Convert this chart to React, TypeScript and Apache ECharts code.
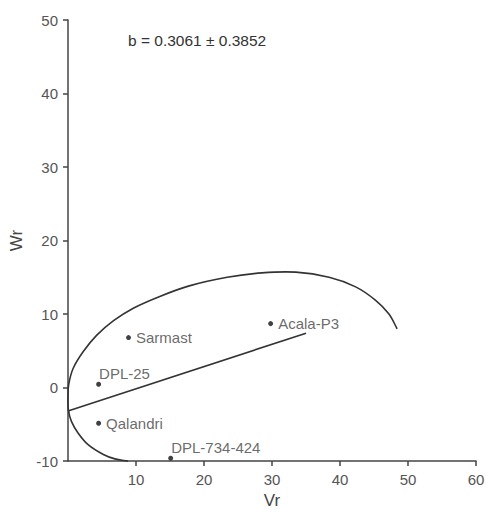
import React, { useEffect, useRef } from "react";
import * as echarts from "echarts";

const names = ["Sarmast", "DPL-25", "Qalandri", "DPL-734-424", "Acala-P3"];
const vrValues = [8.9, 4.5, 4.5, 15.1, 29.8];
const wrValues = [6.8, 0.45, -4.85, -9.6, 8.7];
const labelAbove = [false, true, false, true, false];

const regressionVr = [0, 35];
const regressionWr = [-3.2, 7.4];

const curveVr = [8.8, 6.9, 5.2, 3.0, 1.5, 0.5, 0.05, 0.0, 0.1, 0.75, 2.25, 4.2, 6.7, 9.6, 13.5, 17.7, 23.4, 28.5, 33.5, 38.4, 42.3, 45.2, 47.2, 48.4];
const curveWr = [-10, -9.7, -9.1, -7.8, -6.2, -4.6, -3.0, -1.3, 0.4, 2.6, 4.9, 7.1, 9.1, 10.8, 12.4, 13.8, 15.0, 15.6, 15.7, 15.0, 13.7, 11.9, 10.0, 8.0];

const xTicks = [0, 60, 10];
const yTicks = [-10, 50, 10];
const annotation = "b = 0.3061 ± 0.3852";

function smoothPath(pts: number[][]): string {
  const n = pts.length;
  const d = (a: number[], b: number[]) => Math.hypot(b[0] - a[0], b[1] - a[1]) || 1e-6;
  const tangents = pts.map((p, i) => {
    if (i === 0) {
      const l = d(pts[0], pts[1]);
      return [(pts[1][0] - p[0]) / l, (pts[1][1] - p[1]) / l];
    }
    if (i === n - 1) {
      const l = d(pts[n - 2], pts[n - 1]);
      return [(p[0] - pts[n - 2][0]) / l, (p[1] - pts[n - 2][1]) / l];
    }
    const l = d(pts[i - 1], p) + d(p, pts[i + 1]);
    return [(pts[i + 1][0] - pts[i - 1][0]) / l, (pts[i + 1][1] - pts[i - 1][1]) / l];
  });
  let s = `M${pts[0][0]},${pts[0][1]}`;
  for (let i = 0; i < n - 1; i++) {
    const a = pts[i];
    const b = pts[i + 1];
    const l = d(a, b) / 3;
    const c1 = [a[0] + tangents[i][0] * l, a[1] + tangents[i][1] * l];
    const c2 = [b[0] - tangents[i + 1][0] * l, b[1] - tangents[i + 1][1] * l];
    s += ` C${c1[0]},${c1[1]} ${c2[0]},${c2[1]} ${b[0]},${b[1]}`;
  }
  return s;
}

export default function App() {
  const ref = useRef<HTMLDivElement>(null);
  useEffect(() => {
    if (!ref.current) return;
    const chart = echarts.init(ref.current, null, { renderer: "svg" });
    const font = "Liberation Sans, Arial, Helvetica, sans-serif";
    const axisCommon = {
      axisLine: { show: true, onZero: false, lineStyle: { color: "#444", width: 1.5 } },
      axisTick: { show: true, length: 5, lineStyle: { color: "#444", width: 1.5 } },
      splitLine: { show: false },
      axisLabel: { color: "#555", fontSize: 15, fontFamily: font },
      nameTextStyle: { color: "#444", fontSize: 17, fontFamily: font },
    };
    const curveData = curveVr.map((v, i) => [v, curveWr[i]]);
    chart.setOption({
      animation: false,
      backgroundColor: "#fff",
      grid: { left: 68, right: 13, top: 20, bottom: 51, containLabel: false },
      xAxis: {
        type: "value",
        min: xTicks[0],
        max: xTicks[1],
        interval: xTicks[2],
        name: "Vr",
        nameLocation: "middle",
        nameGap: 25,
        ...axisCommon,
        axisLabel: { ...axisCommon.axisLabel, margin: 11, showMinLabel: false },
      },
      yAxis: {
        type: "value",
        min: yTicks[0],
        max: yTicks[1],
        interval: yTicks[2],
        name: "Wr",
        nameLocation: "middle",
        nameGap: 43,
        ...axisCommon,
        axisLabel: { ...axisCommon.axisLabel, margin: 10 },
      },
      graphic: [
        {
          type: "text",
          left: 128,
          top: 32,
          style: { text: annotation, fill: "#333", fontSize: 15.5, fontFamily: font },
        },
      ],
      series: [
        {
          type: "custom",
          data: curveData,
          silent: true,
          renderItem: (params: any, api: any) => {
            if (params.dataIndex !== 0) return null;
            const pts = curveData.map((p) => api.coord(p));
            return {
              type: "path",
              shape: { pathData: smoothPath(pts) },
              style: { fill: "none", stroke: "#333", lineWidth: 1.6 },
            };
          },
        },
        {
          type: "line",
          data: regressionVr.map((v, i) => [v, regressionWr[i]]),
          showSymbol: false,
          lineStyle: { color: "#333", width: 1.6 },
          silent: true,
        },
        {
          type: "scatter",
          symbolSize: 5,
          itemStyle: { color: "#111" },
          data: names.map((n, i) => ({
            value: [vrValues[i], wrValues[i]],
            name: n,
            label: {
              show: true,
              formatter: n,
              position: labelAbove[i] ? [3, -16] : "right",
              distance: 5,
              color: "#444",
              fontSize: 15,
              fontFamily: font,
            },
          })),
        },
      ],
    });
    return () => chart.dispose();
  }, []);
  return (
    <div
      ref={ref}
      style={{ position: "absolute", left: 0, top: 0, width: 489, height: 514 }}
    />
  );
}
